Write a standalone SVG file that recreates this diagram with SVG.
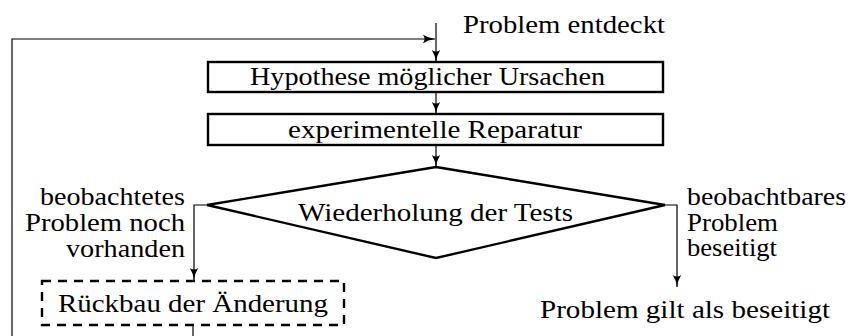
<svg xmlns="http://www.w3.org/2000/svg" width="853" height="336" viewBox="0 0 853 336">
<style>
text{font-family:"Liberation Serif","Times New Roman",serif;font-size:25px;fill:#000}
.box{fill:#fff;stroke:#000;stroke-width:2.4}
.dash{fill:none;stroke:#000;stroke-width:2.4;stroke-dasharray:9 7}
.ln{fill:none;stroke:#000;stroke-width:1.2}
</style>
<defs>
<marker id="ah" markerWidth="14" markerHeight="10" refX="12" refY="5" orient="auto" markerUnits="userSpaceOnUse">
<path d="M0,0.8 Q5,4 12,5 Q5,6 0,9.2 Q3,5 0,0.8 Z" fill="#000"/>
</marker>
</defs>
<g id="connectors">
<path class="ln" d="M436,23 V62" marker-end="url(#ah)"/>
<path class="ln" d="M12,336 V39 H435" marker-end="url(#ah)"/>
<path class="ln" d="M436,92 V114" marker-end="url(#ah)"/>
<path class="ln" d="M436,145 V167" marker-end="url(#ah)"/>
<path class="ln" d="M207,205 H194 V280" marker-end="url(#ah)"/>
<path class="ln" d="M665,205 H677 V287" marker-end="url(#ah)"/>
<path class="ln" d="M193,325 V336"/>
</g>
<g id="start">
<text x="463" y="33" textLength="202" lengthAdjust="spacingAndGlyphs">Problem entdeckt</text>
</g>
<g id="hypothese">
<rect class="box" x="208" y="62" width="455" height="30"/>
<text x="250" y="85" textLength="355" lengthAdjust="spacingAndGlyphs">Hypothese möglicher Ursachen</text>
</g>
<g id="reparatur">
<rect class="box" x="208" y="114" width="455" height="31"/>
<text x="288" y="138" textLength="294" lengthAdjust="spacingAndGlyphs">experimentelle Reparatur</text>
</g>
<g id="tests">
<polygon class="box" points="436,167 665,205 436,258 207,205"/>
<text x="298" y="221" textLength="275" lengthAdjust="spacingAndGlyphs">Wiederholung der Tests</text>
</g>
<g id="label-noch">
<text x="40" y="205" textLength="145" lengthAdjust="spacingAndGlyphs">beobachtetes</text>
<text x="25" y="231" textLength="160" lengthAdjust="spacingAndGlyphs">Problem noch</text>
<text x="66" y="257" textLength="119" lengthAdjust="spacingAndGlyphs">vorhanden</text>
</g>
<g id="label-beseitigt">
<text x="687" y="205" textLength="159" lengthAdjust="spacingAndGlyphs">beobachtbares</text>
<text x="687" y="231" textLength="91" lengthAdjust="spacingAndGlyphs">Problem</text>
<text x="687" y="256" textLength="90" lengthAdjust="spacingAndGlyphs">beseitigt</text>
</g>
<g id="rueckbau">
<rect class="dash" x="42" y="281" width="302" height="44"/>
<text x="58" y="312" textLength="270" lengthAdjust="spacingAndGlyphs">Rückbau der Änderung</text>
</g>
<g id="ende">
<text x="540" y="318" textLength="290" lengthAdjust="spacingAndGlyphs">Problem gilt als beseitigt</text>
</g>
</svg>
